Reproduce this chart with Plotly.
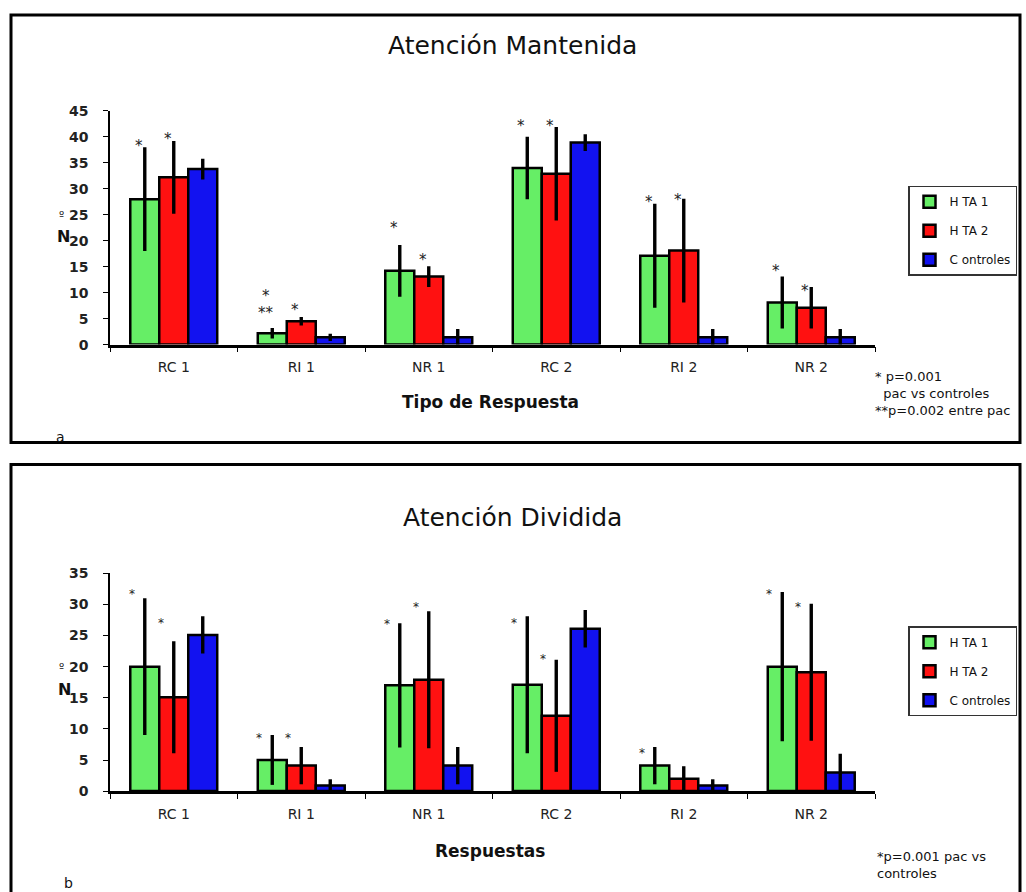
import plotly.graph_objects as go

categories = ["RC 1", "RI 1", "NR 1", "RC 2", "RI 2", "NR 2"]
series_names = ["H TA 1", "H TA 2", "C ontroles"]
series_colors = ["#66EE66", "#FF1111", "#1212F0"]

# Panel a: Atención Mantenida
a_hta1 = [28, 2.2, 14.2, 34, 17.1, 8.1]
a_hta1_err = [10, 1, 5, 6, 10, 5]
a_hta2 = [32.2, 4.5, 13.1, 32.9, 18.1, 7.1]
a_hta2_err = [7, 0.8, 2, 9, 10, 4]
a_ctrl = [33.8, 1.4, 1.4, 38.9, 1.4, 1.4]
a_ctrl_err = [2, 0.7, 1.6, 1.6, 1.6, 1.6]

a_star_series = [0, 0, 0, 0, 0, 0, 0, 1, 1, 1, 1, 1, 1]
a_star_cat = ["RC 1", "RI 1", "RI 1", "NR 1", "RC 2", "RI 2", "NR 2",
              "RC 1", "RI 1", "NR 1", "RC 2", "RI 2", "NR 2"]
a_star_y = [39.1, 10.2, 6.9, 23.2, 42.8, 28.3, 15, 40.4, 7.4, 17, 42.8, 28.7, 11.1]
a_star_text = ["*", "*", "**", "*", "*", "*", "*", "*", "*", "*", "*", "*", "*"]

# Panel b: Atención Dividida
b_hta1 = [20, 5, 17, 17.1, 4.1, 20]
b_hta1_err = [11, 4, 10, 11, 3, 12]
b_hta2 = [15.1, 4.1, 17.9, 12.1, 2.0, 19.1]
b_hta2_err = [9, 3, 11, 9, 2, 11]
b_ctrl = [25.1, 0.9, 4.1, 26.1, 0.9, 3]
b_ctrl_err = [3, 1, 3, 3, 1, 3]

b_star_series = [0, 0, 0, 0, 0, 0, 1, 1, 1, 1, 1]
b_star_cat = ["RC 1", "RI 1", "NR 1", "RC 2", "RI 2", "NR 2",
              "RC 1", "RI 1", "NR 1", "RC 2", "NR 2"]
b_star_y = [32.4, 9.2, 27.5, 27.6, 6.7, 32.4, 27.6, 9.2, 30.2, 21.9, 30.2]
b_star_text = ["*"] * 11

W, H = 1026, 892
FIG_H = 907
FONT = "DejaVu Sans"
BARGAP = 0.318

def px(x):
    return x / W

def py(y):
    return 1 - y / H

fig = go.Figure()

panels = [
    ("x", "y", "legend", [a_hta1, a_hta2, a_ctrl], [a_hta1_err, a_hta2_err, a_ctrl_err]),
    ("x2", "y2", "legend2", [b_hta1, b_hta2, b_ctrl], [b_hta1_err, b_hta2_err, b_ctrl_err]),
]
for xa, ya, lg, vals, errs in panels:
    for i in range(3):
        fig.add_trace(go.Bar(
            x=categories, y=vals[i], name=series_names[i],
            xaxis=xa, yaxis=ya, legend=lg, legendgroup=lg + str(i),
            marker=dict(color=series_colors[i], line=dict(color="black", width=2.5)),
            error_y=dict(type="data", array=errs[i], visible=True,
                         color="black", thickness=3.4, width=0),
        ))

axis_x_px = (110, 875)
cat_px = (axis_x_px[1] - axis_x_px[0]) / len(categories)
bar_px = cat_px * (1 - BARGAP) / 3
offsets = [-bar_px, 0, bar_px]

annotations = []
def add_stars(xref, yref, ser, cats, ys, texts, size, shift):
    for s, c, y, t in zip(ser, cats, ys, texts):
        annotations.append(dict(
            x=c, y=y, xref=xref, yref=yref, text=t, showarrow=False,
            xshift=offsets[s] + shift, yshift=-4, yanchor="middle",
            font=dict(family=FONT, size=size, color="#222"),
        ))

add_stars("x", "y", a_star_series, a_star_cat, a_star_y, a_star_text, 15, -6)
add_stars("x2", "y2", b_star_series, b_star_cat, b_star_y, b_star_text, 12, -13)

def txt(x, y, text, size, bold=False, xanchor="center", align="center"):
    annotations.append(dict(
        x=px(x), y=py(y), xref="paper", yref="paper", text=text, showarrow=False,
        xanchor=xanchor, yanchor="middle", align=align,
        font=dict(family=FONT, size=size, color="#111", weight="bold" if bold else "normal"),
    ))

txt(512, 46, "Atención Mantenida", 25)
txt(512, 518, "Atención Dividida", 25)
txt(490, 402, "Tipo de Respuesta", 17, bold=True)
txt(490, 852, "Respuestas", 17, bold=True)
txt(63, 237, "N", 16, bold=True)
txt(61, 216, "º", 11)
txt(64, 690, "N", 16, bold=True)
txt(61, 668, "º", 11)
txt(873, 394, "* p=0.001<br>  pac vs controles<br>**p=0.002 entre pac", 13,
    xanchor="left", align="left")
txt(875, 866, "*p=0.001 pac vs<br>controles", 13, xanchor="left", align="left")
txt(60, 437, "a", 14)
txt(68, 884, "b", 14)

xcommon = dict(
    type="category", showline=True, linecolor="black", linewidth=2.5,
    ticks="outside", tickson="boundaries", ticklen=5, tickcolor="black",
    tickfont=dict(family=FONT, size=14, color="#222"), ticklabelstandoff=8,
    showgrid=False, zeroline=False, domain=[px(axis_x_px[0]), px(axis_x_px[1])],
)
ycommon = dict(
    showline=True, linecolor="black", linewidth=1.5, ticks="outside",
    ticklen=5, tickcolor="black", dtick=5, showgrid=False, zeroline=False,
    tickfont=dict(family=FONT, size=14, color="#222", weight="bold"),
    ticklabelstandoff=12,
)

legend_common = dict(
    xanchor="left", yanchor="top", bordercolor="#333", borderwidth=1.5,
    bgcolor="white", font=dict(family=FONT, size=12, color="#111"),
    traceorder="grouped", tracegroupgap=10, itemwidth=30,
)

fig.update_layout(
    width=W, height=FIG_H, autosize=False, margin=dict(l=0, r=0, t=0, b=0),
    paper_bgcolor="white", plot_bgcolor="white",
    barmode="group", bargap=BARGAP, bargroupgap=0,
    xaxis=dict(xcommon, anchor="y"),
    yaxis=dict(ycommon, range=[0, 45], domain=[py(345), py(111)], anchor="x"),
    xaxis2=dict(xcommon, anchor="y2"),
    yaxis2=dict(ycommon, range=[0, 35], domain=[py(792), py(574)], anchor="x2"),
    legend=dict(legend_common, x=px(908), y=py(186)),
    legend2=dict(legend_common, x=px(908), y=py(627)),
    annotations=annotations,
    shapes=[
        dict(type="rect", xref="paper", yref="paper", x0=px(11), x1=px(1020),
             y0=py(443), y1=py(15), line=dict(color="black", width=3)),
        dict(type="rect", xref="paper", yref="paper", x0=px(11), x1=px(1020),
             y0=py(900), y1=py(465), line=dict(color="black", width=3)),
    ],
    showlegend=True,
)

post = (
    "var d=document.getElementById('{plot_id}');"
    "d.style.position='absolute';d.style.top='-7.6px';d.style.left='0px';"
    "document.documentElement.style.margin='0';"
    "document.documentElement.style.overflow='hidden';"
    "document.body.style.margin='0';document.body.style.padding='0';"
    "document.body.style.overflow='hidden';"
    "document.body.style.height='892px';document.documentElement.style.height='892px';"
)

fig.write_html(
    "out.html",
    config={"displayModeBar": False, "responsive": False},
    default_width="1026px", default_height="907px",
    post_script=post,
)
